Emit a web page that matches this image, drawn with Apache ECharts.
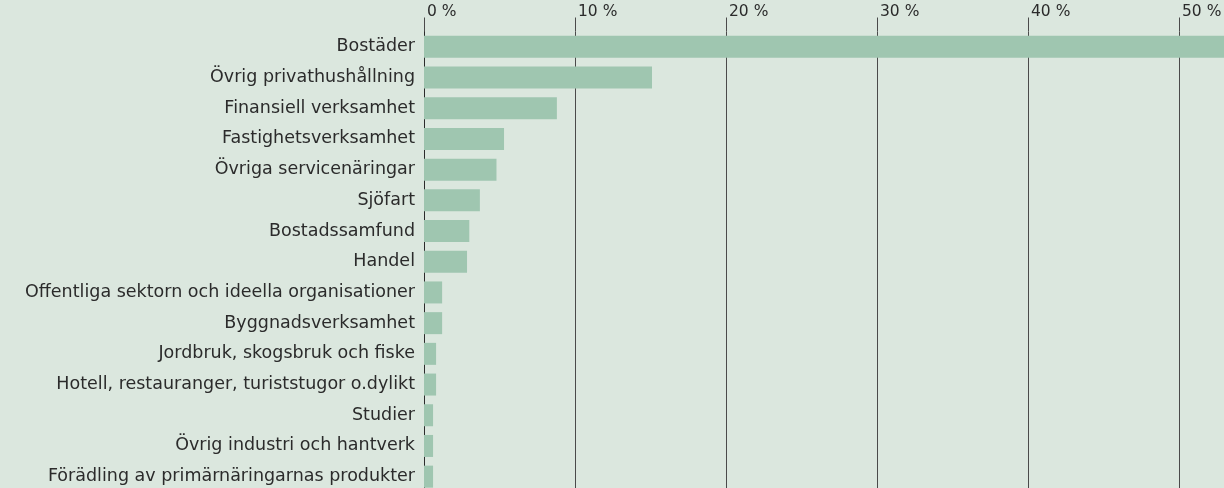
<!DOCTYPE html>
<html>
<head>
<meta charset="utf-8">
<script src="https://cdn.jsdelivr.net/npm/echarts@6/dist/echarts.min.js"></script>
<style>
html,body{margin:0;padding:0;background:#dbe7de;overflow:hidden;}
#chart{width:1224px;height:488px;}
</style>
</head>
<body>
<div id="chart"></div>
<script>
const categories = [
  "Bostäder",
  "Övrig privathushållning",
  "Finansiell verksamhet",
  "Fastighetsverksamhet",
  "Övriga servicenäringar",
  "Sjöfart",
  "Bostadssamfund",
  "Handel",
  "Offentliga sektorn och ideella organisationer",
  "Byggnadsverksamhet",
  "Jordbruk, skogsbruk och fiske",
  "Hotell, restauranger, turiststugor o.dylikt",
  "Studier",
  "Övrig industri och hantverk",
  "Förädling av primärnäringarnas produkter"
];
const values = [56, 15.1, 8.8, 5.3, 4.8, 3.7, 3.0, 2.85, 1.2, 1.2, 0.8, 0.8, 0.6, 0.6, 0.6];
const xTicks = [0, 10, 20, 30, 40, 50, 60];

const chart = echarts.init(document.getElementById('chart'), null, {renderer: 'canvas'});
const font = '"DejaVu Sans", "Noto Sans", sans-serif';
chart.setOption({
  backgroundColor: '#dbe7de',
  animation: false,
  grid: {left: 424, width: 906, top: 31.5, height: 460.5, containLabel: false, outerBoundsMode: 'none'},
  xAxis: {
    type: 'value', position: 'top', min: xTicks[0], max: xTicks[xTicks.length - 1], interval: 10,
    axisLine: {show: false},
    axisTick: {show: true, length: 14, lineStyle: {color: '#4a4a4a', width: 1}},
    splitLine: {show: true, lineStyle: {color: '#4a4a4a', width: 1}},
    axisLabel: {
      formatter: v => v + ' %', align: 'left', verticalAlign: 'bottom', margin: 12,
      padding: [0, 0, 0, 3], color: '#2b2b2b', fontSize: 15.5, fontFamily: font
    }
  },
  yAxis: {
    type: 'category', inverse: true, data: categories,
    axisLine: {show: true, lineStyle: {color: '#2b2b2b', width: 1}},
    axisTick: {show: false},
    axisLabel: {margin: 9, color: '#2b2b2b', fontSize: 17.5, fontFamily: font}
  },
  series: [{
    type: 'bar', data: values, barWidth: 22, clip: true,
    itemStyle: {color: '#9fc6b0'}
  }]
});
</script>
</body>
</html>
